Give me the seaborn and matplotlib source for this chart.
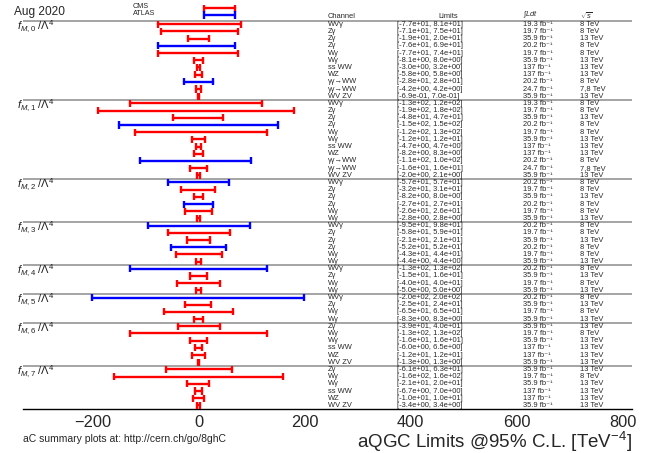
import numpy as np
import pandas as pd
import matplotlib
matplotlib.use("Agg")
import matplotlib.pyplot as plt
import matplotlib.transforms as mtransforms
from matplotlib.ticker import MultipleLocator
import seaborn as sns

# ---------------- data ----------------
group_labels = [r"$f_{M,0}\ /\Lambda^4$", r"$f_{M,1}\ /\Lambda^4$", r"$f_{M,2}\ /\Lambda^4$",
                r"$f_{M,3}\ /\Lambda^4$", r"$f_{M,4}\ /\Lambda^4$", r"$f_{M,5}\ /\Lambda^4$",
                r"$f_{M,6}\ /\Lambda^4$", r"$f_{M,7}\ /\Lambda^4$"]
group_sizes = [11, 11, 6, 6, 4, 4, 6, 6]

channel = [
    "WVγ", "Zγ", "Zγ", "Zγ", "Wγ", "Wγ", "ss WW", "WZ", "γγ→WW", "γγ→WW", "WV ZV",
    "WVγ", "Zγ", "Zγ", "Zγ", "Wγ", "Wγ", "ss WW", "WZ", "γγ→WW", "γγ→WW", "WV ZV",
    "WVγ", "Zγ", "Zγ", "Zγ", "Wγ", "Wγ",
    "WVγ", "Zγ", "Zγ", "Zγ", "Wγ", "Wγ",
    "WVγ", "Zγ", "Wγ", "Wγ",
    "WVγ", "Zγ", "Wγ", "Wγ",
    "Zγ", "Wγ", "Wγ", "ss WW", "WZ", "WV ZV",
    "Zγ", "Wγ", "Wγ", "ss WW", "WZ", "WV ZV",
]
lower = [
    -77, -71, -19, -76, -77, -8.1, -3.0, -5.8, -28, -4.2, -0.69,
    -130, -190, -48, -150, -120, -12, -4.7, -8.2, -110, -16, -2.0,
    -57, -32, -8.2, -27, -26, -2.8,
    -95, -58, -21, -52, -43, -4.4,
    -130, -15, -40, -5.0,
    -200, -25, -65, -8.3,
    -39, -130, -16, -6.0, -12, -1.3,
    -61, -160, -21, -6.7, -10, -3.4,
]
upper = [
    81, 75, 20, 69, 74, 8.0, 3.2, 5.8, 28, 4.2, 0.70,
    120, 180, 47, 150, 130, 12, 4.7, 8.3, 100, 16, 2.1,
    57, 31, 8.0, 27, 26, 2.8,
    98, 59, 21, 52, 44, 4.4,
    130, 16, 40, 5.0,
    200, 24, 65, 8.3,
    40, 130, 16, 6.5, 12, 1.3,
    63, 160, 20, 7.0, 10, 3.4,
]
lumi = [
    "19.3", "19.7", "35.9", "20.2", "19.7", "35.9", "137", "137", "20.2", "24.7", "35.9",
    "19.3", "19.7", "35.9", "20.2", "19.7", "35.9", "137", "137", "20.2", "24.7", "35.9",
    "20.2", "19.7", "35.9", "20.2", "19.7", "35.9",
    "20.2", "19.7", "35.9", "20.2", "19.7", "35.9",
    "20.2", "35.9", "19.7", "35.9",
    "20.2", "35.9", "19.7", "35.9",
    "35.9", "19.7", "35.9", "137", "137", "35.9",
    "35.9", "19.7", "35.9", "137", "137", "35.9",
]
sqrt_s = [
    "8", "8", "13", "8", "8", "13", "13", "13", "8", "7,8", "13",
    "8", "8", "13", "8", "8", "13", "13", "13", "8", "7,8", "13",
    "8", "8", "13", "8", "8", "13",
    "8", "8", "13", "8", "8", "13",
    "8", "13", "8", "13",
    "8", "13", "8", "13",
    "13", "8", "13", "13", "13", "13",
    "13", "8", "13", "13", "13", "13",
]
experiment = [
    "CMS", "CMS", "CMS", "ATLAS", "CMS", "CMS", "CMS", "CMS", "ATLAS", "CMS", "CMS",
    "CMS", "CMS", "CMS", "ATLAS", "CMS", "CMS", "CMS", "CMS", "ATLAS", "CMS", "CMS",
    "ATLAS", "CMS", "CMS", "ATLAS", "CMS", "CMS",
    "ATLAS", "CMS", "CMS", "ATLAS", "CMS", "CMS",
    "ATLAS", "CMS", "CMS", "CMS",
    "ATLAS", "CMS", "CMS", "CMS",
    "CMS", "CMS", "CMS", "CMS", "CMS", "CMS",
    "CMS", "CMS", "CMS", "CMS", "CMS", "CMS",
]
legend_names = ["CMS", "ATLAS"]
legend_lo = [11, 11]
legend_hi = [69, 69]

palette = {"CMS": "#ff0000", "ATLAS": "#0000ff"}

# ---------------- build frames ----------------
n = len(channel)
rows = np.arange(n)
df = pd.DataFrame({"row": rows, "lo": lower, "hi": upper, "expt": experiment})
long_df = pd.concat([
    df[["row", "expt"]].assign(value=df["lo"]),
    df[["row", "expt"]].assign(value=df["hi"]),
], ignore_index=True)

leg_rows = [-2.22, -1.29]
leg_df = pd.DataFrame({"row": leg_rows, "expt": legend_names})
leg_long = pd.concat([leg_df.assign(value=legend_lo), leg_df.assign(value=legend_hi)],
                     ignore_index=True)

# ---------------- figure ----------------
sns.set_style("white")
plt.rcParams["font.family"] = ["Liberation Sans", "DejaVu Sans"]
plt.rcParams["mathtext.fontset"] = "custom"
plt.rcParams["mathtext.rm"] = "Liberation Sans"
plt.rcParams["mathtext.it"] = "Liberation Sans:italic"
plt.rcParams["mathtext.bf"] = "Liberation Sans:bold"

W, H = 654, 453
fig = plt.figure(figsize=(W / 100, H / 100), dpi=100)
ax = fig.add_axes([23 / W, 1 - 409 / H, (632 - 23) / W, 409 / H])

for d in (long_df, leg_long):
    sns.lineplot(data=d, x="value", y="row", units="row", estimator=None, hue="expt",
                 palette=palette, sort=True, legend=False, lw=1.7, ax=ax)
    sns.scatterplot(data=d, x="value", y="row", hue="expt", palette=palette, marker="|",
                    s=26, linewidth=1.7, legend=False, ax=ax, zorder=3)

ax.set_xlim(-331, 818)
ax.set_ylim(53.5, -3.38)

# group separators
starts = np.concatenate([[0], np.cumsum(group_sizes)[:-1]])
for s0 in starts:
    ax.axhline(s0 - 0.5, color="#8c8c8c", lw=1.1, zorder=1)

for sp in ("top", "right", "left"):
    ax.spines[sp].set_visible(False)
ax.spines["bottom"].set_color("black")
ax.spines["bottom"].set_linewidth(1.0)
ax.set_yticks([])
ax.set_ylabel("")
ax.xaxis.set_major_locator(MultipleLocator(200))
ax.xaxis.set_minor_locator(MultipleLocator(50))
ax.tick_params(axis="x", which="major", direction="in", length=7.5, width=1.2,
               labelsize=11.8, pad=4, color="black")
ax.tick_params(axis="x", which="minor", direction="in", length=3.6, width=1.0, color="black")
ax.set_xlabel(r"aQGC Limits @95% C.L. [TeV$^{-4}$]", fontsize=13.5, loc="right", labelpad=0)

# texts
tr = mtransforms.blended_transform_factory(fig.transFigure, ax.transData)
fs = 5.4
for i in range(n):
    ax.text(328 / W, i, channel[i], transform=tr, fontsize=fs, va="center", ha="left")
    ax.text(397 / W, i, f"[{lower[i]:.1e}, {upper[i]:.1e}]", transform=tr, fontsize=fs,
            va="center", ha="left")
    ax.text(523 / W, i, lumi[i] + " fb⁻¹", transform=tr, fontsize=fs, va="center", ha="left")
    ax.text(580 / W, i, sqrt_s[i] + " TeV", transform=tr, fontsize=fs, va="center", ha="left")

hdr_y = -1.1
ax.text(328 / W, hdr_y, "Channel", transform=tr, fontsize=fs, va="center", ha="left")
ax.text(438 / W, hdr_y, "Limits", transform=tr, fontsize=fs, va="center", ha="left")
ax.text(523 / W, hdr_y - 0.15, r"$\int Ldt$", transform=tr, fontsize=fs, va="center", ha="left")
ax.text(580 / W, hdr_y - 0.15, r"$\sqrt{s}$", transform=tr, fontsize=fs, va="center", ha="left")

for name, y in zip(legend_names, leg_rows):
    ax.text(133 / W, y - 0.2, name, transform=tr, fontsize=5.2, va="center", ha="left")

for lab, s0 in zip(group_labels, starts):
    ax.text(17 / W, s0 + 0.3, lab, transform=tr, fontsize=8, va="center", ha="left",
            color="#222222")

fig.text(14 / W, 1 - 11.5 / H, "Aug 2020", fontsize=8.6, va="center", ha="left")
fig.text(23 / W, 1 - 439 / H, "aC summary plots at: http://cern.ch/go/8ghC", fontsize=7.5,
         va="center", ha="left")

fig.savefig("out.png", dpi=100)
